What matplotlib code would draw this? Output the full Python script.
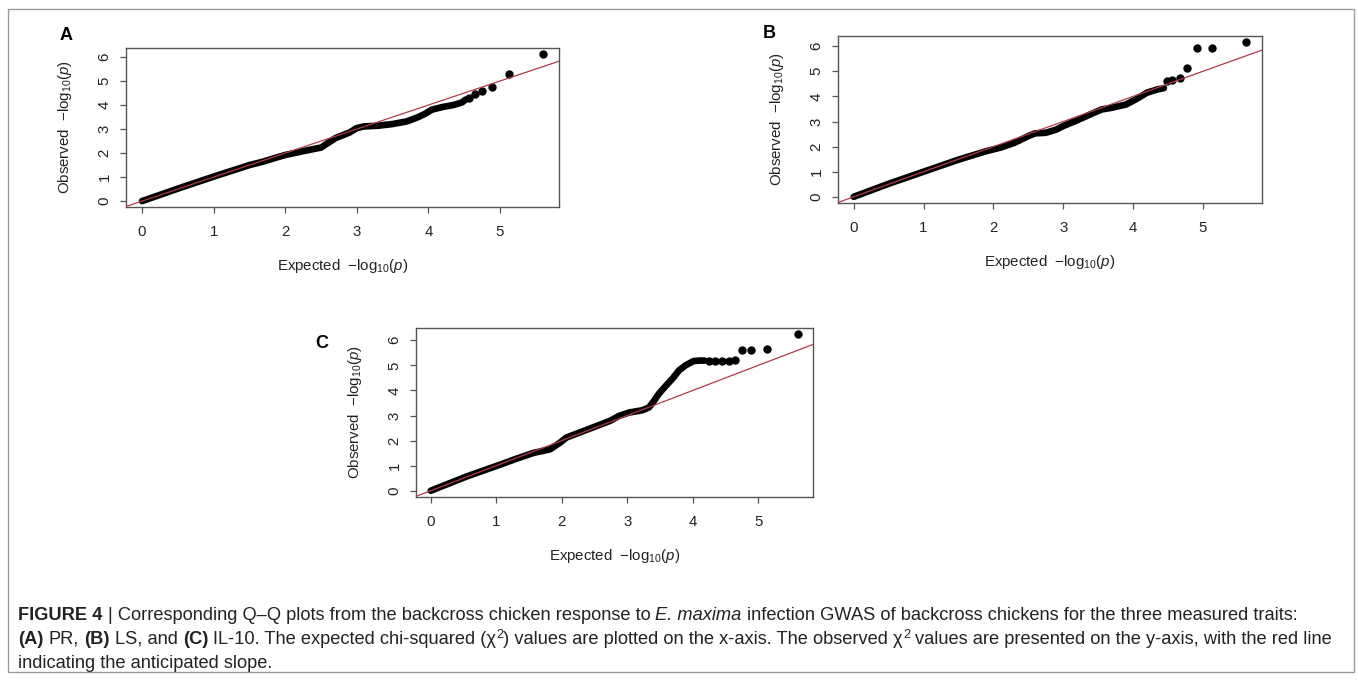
import matplotlib
matplotlib.use("Agg")
import matplotlib.pyplot as plt
from matplotlib import font_manager
from matplotlib.patches import Rectangle

# ---------------- data ----------------
A_band_exp = [0.0, 0.5, 1.0, 1.5, 1.7, 1.85, 2.0, 2.25, 2.5, 2.7, 2.9, 3.0, 3.1, 3.3,
              3.5, 3.7, 3.85, 3.95, 4.05, 4.2, 4.35, 4.47, 4.52]
A_band_obs = [0.0, 0.52, 1.02, 1.5, 1.65, 1.79, 1.92, 2.08, 2.23, 2.62, 2.86, 3.04, 3.11, 3.14,
              3.21, 3.32, 3.49, 3.63, 3.81, 3.92, 4.0, 4.11, 4.23]
A_tail_exp = [4.57, 4.65, 4.75, 4.89, 5.13, 5.60]
A_tail_obs = [4.28, 4.45, 4.60, 4.74, 5.29, 6.13]

B_band_exp = [0.0, 0.5, 1.0, 1.5, 1.9, 2.1, 2.3, 2.5, 2.6, 2.75, 2.9, 3.0, 3.2, 3.4,
              3.55, 3.7, 3.9, 4.05, 4.2, 4.35, 4.44]
B_band_obs = [0.0, 0.52, 1.0, 1.48, 1.82, 1.96, 2.15, 2.42, 2.53, 2.55, 2.68, 2.82, 3.05, 3.3,
              3.48, 3.55, 3.68, 3.9, 4.15, 4.28, 4.33]
B_tail_exp = [4.49, 4.56, 4.67, 4.77, 4.91, 5.13, 5.62]
B_tail_obs = [4.62, 4.64, 4.72, 5.13, 5.93, 5.93, 6.16]

C_band_exp = [0.0, 0.56, 1.06, 1.3, 1.57, 1.82, 1.97, 2.07, 2.27, 2.53, 2.73, 2.88, 3.03,
              3.23, 3.33, 3.41, 3.48, 3.59, 3.69, 3.79, 3.89, 4.01, 4.1, 4.18]
C_band_obs = [0.0, 0.58, 1.04, 1.27, 1.51, 1.65, 1.91, 2.12, 2.32, 2.58, 2.78, 2.99, 3.12,
              3.21, 3.32, 3.59, 3.86, 4.19, 4.47, 4.8, 5.0, 5.17, 5.19, 5.19]
C_tail_exp = [4.24, 4.34, 4.44, 4.55, 4.65, 4.75, 4.89, 5.13, 5.61]
C_tail_obs = [5.19, 5.19, 5.19, 5.19, 5.22, 5.60, 5.60, 5.66, 6.24]

x_ticks = [0, 1, 2, 3, 4, 5]
y_ticks = [0, 1, 2, 3, 4, 5, 6]
panel_letters = ["A", "B", "C"]

caption_lines = [
    [("FIGURE 4", "bold", "normal", False), (" | Corresponding Q\u2013Q plots from the backcross chicken response to ", "normal", "normal", False),
     ("E. maxima", "normal", "italic", False),
     (" infection GWAS of backcross chickens for the three measured traits:", "normal", "normal", False)],
    [("(A)", "bold", "normal", False), (" PR, ", "normal", "normal", False), ("(B)", "bold", "normal", False),
     (" LS, and ", "normal", "normal", False), ("(C)", "bold", "normal", False),
     (" IL-10. The expected chi-squared (\u03c7", "normal", "normal", False), ("2", "normal", "normal", True),
     (") values are plotted on the x-axis. The observed \u03c7", "normal", "normal", False), ("2", "normal", "normal", True),
     (" values are presented on the y-axis, with the red line", "normal", "normal", False)],
    [("indicating the anticipated slope.", "normal", "normal", False)],
]

# ---------------- style ----------------
W, H = 1358, 681
plt.rcParams["font.family"] = ["Liberation Sans", "DejaVu Sans"]
plt.rcParams["mathtext.fontset"] = "custom"
plt.rcParams["mathtext.rm"] = "Liberation Sans"
plt.rcParams["mathtext.it"] = "Liberation Sans:italic"
plt.rcParams["mathtext.bf"] = "Liberation Sans:bold"

fig = plt.figure(figsize=(W / 100, H / 100), dpi=100)
fig.patch.set_facecolor("white")

def px_axes(l, t, r, b):
    return fig.add_axes([l / W, 1 - b / H, (r - l) / W, (b - t) / H])

def r_lim(vals):
    lo, hi = min(vals), max(vals)
    d = 0.04 * (hi - lo)
    return lo - d, hi + d

ink = "#222222"
axcol = "#555555"
red = "#b23a48"

def qq_panel(rect, bx, by, tx, ty, letter, letter_xy):
    l, t, r, b = rect
    ax = px_axes(l, t, r, b)
    allx = list(bx) + list(tx)
    ally = list(by) + list(ty)
    ax.set_xlim(*r_lim(allx))
    ax.set_ylim(*r_lim(ally))
    ax.plot(bx, by, color="black", lw=4.8, solid_capstyle="round", solid_joinstyle="round", zorder=2)
    ax.plot(tx, ty, linestyle="none", marker="o", ms=5.0, color="black", zorder=2)
    ax.axline((0, 0), slope=1, color=red, lw=0.9, zorder=3)
    ax.set_xticks(x_ticks)
    ax.set_yticks(y_ticks)
    for s in ax.spines.values():
        s.set_color(axcol)
        s.set_linewidth(1.0)
    ax.tick_params(axis="both", direction="out", length=4, width=0.9, color=axcol,
                   labelsize=10.8, labelcolor=ink)
    ax.tick_params(axis="x", pad=9)
    ax.tick_params(axis="y", pad=6.5, labelrotation=90)
    for lab in ax.get_yticklabels():
        lab.set_va("center")
    wpx, hpx = r - l, b - t
    ax.set_xlabel("Expected  $-\\mathrm{log}_{10}(\\mathit{p})$", fontsize=10.8, color=ink)
    ax.set_ylabel("Observed  $-\\mathrm{log}_{10}(\\mathit{p})$", fontsize=10.8, color=ink)
    ax.xaxis.set_label_coords(0.5, -59 / hpx)
    ax.yaxis.set_label_coords(-61 / wpx, 0.5)
    ax.xaxis.label.set_va("center")
    ax.yaxis.label.set_va("center")
    fig.text(letter_xy[0] / W, 1 - letter_xy[1] / H, letter, fontsize=13, fontweight="bold",
             ha="center", va="center", color="black")
    return ax

qq_panel((126, 48, 559, 207), A_band_exp, A_band_obs, A_tail_exp, A_tail_obs, panel_letters[0], (66, 36))
qq_panel((838, 36, 1262, 203), B_band_exp, B_band_obs, B_tail_exp, B_tail_obs, panel_letters[1], (769, 34))
qq_panel((416, 328, 813, 497), C_band_exp, C_band_obs, C_tail_exp, C_tail_obs, panel_letters[2], (322, 343))

# outer frame
fig.add_artist(Rectangle((8 / W, 1 - 672 / H), (1354 - 8) / W, (672 - 9) / H, transform=fig.transFigure,
                         fill=False, edgecolor="#9a9a9a", lw=1.0))

# ---------------- caption ----------------
names = {f.name for f in font_manager.fontManager.ttflist}
cap_family = "Liberation Sans Narrow" if "Liberation Sans Narrow" in names else "Liberation Sans"
renderer = fig.canvas.get_renderer()

def seg_width(s, weight, style, size):
    prop = font_manager.FontProperties(family=cap_family, weight=weight, style=style, size=size)
    w1, _, _ = renderer.get_text_width_height_descent("|" + s + "|", prop, ismath=False)
    w0, _, _ = renderer.get_text_width_height_descent("||", prop, ismath=False)
    return w1 - w0

def line_width(segs, size):
    tot = 0
    for s, wgt, sty, sup in segs:
        tot += seg_width(s, wgt, sty, size * (0.7 if sup else 1.0))
    return tot

base = 11.0
target = 1333 - 18
scale = target / line_width(caption_lines[1], base)
cap_size = base * scale

baselines = [620, 644, 668]
for segs, yb in zip(caption_lines, baselines):
    x = 18.0
    for s, wgt, sty, sup in segs:
        sz = cap_size * (0.7 if sup else 1.0)
        yy = yb - (6 if sup else 0)
        lead = len(s) - len(s.lstrip(" "))
        xs = x + (seg_width(" " * lead, wgt, sty, sz) if lead else 0)
        fig.text(xs / W, 1 - yy / H, s.strip(" "), fontsize=sz, fontweight=wgt, fontstyle=sty,
                 family=cap_family, color=ink, ha="left", va="baseline")
        x += seg_width(s, wgt, sty, sz)

fig.savefig("out.png", dpi=100, facecolor="white")
